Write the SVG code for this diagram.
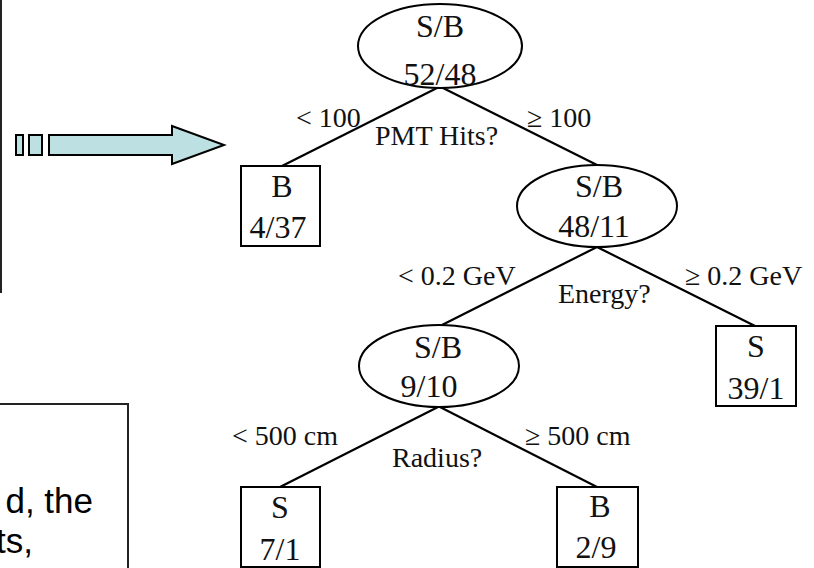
<svg xmlns="http://www.w3.org/2000/svg" width="814" height="568" viewBox="0 0 814 568">
  <style>
    .edge { stroke: #000; stroke-width: 2.2; fill: none; }
    .node { stroke: #000; stroke-width: 2; fill: #fff; }
    .nt { font-family: "Liberation Serif", "Times New Roman", serif; font-size: 32px; fill: #111; text-anchor: middle; }
    .lbl { font-family: "Liberation Serif", "Times New Roman", serif; font-size: 28px; fill: #111; }
    .frame { stroke: #222; stroke-width: 2; fill: none; }
    .body { font-family: "Liberation Sans", Arial, sans-serif; font-size: 35px; fill: #000; text-anchor: end; }
    .arrow { fill: #bde0e3; stroke: #000; stroke-width: 2; stroke-linejoin: miter; }
  </style>
  <rect width="814" height="568" fill="#fff"/>

  <!-- left-hand panel edge and lower text panel -->
  <line class="frame" x1="1" y1="0" x2="1" y2="293"/>
  <rect class="frame" x="-4" y="404" width="132" height="170"/>
  <text class="body" x="93" y="513">d, the</text>
  <text class="body" x="33" y="553">ts,</text>

  <!-- block arrow -->
  <g id="arrow">
    <rect class="arrow" x="16" y="135" width="7" height="20"/>
    <rect class="arrow" x="29" y="135" width="13" height="20"/>
    <polygon class="arrow" points="49,135 172,135 172,126 224,145 172,164 172,155 49,155"/>
  </g>

  <!-- connectors -->
  <g id="connectors">
    <line class="edge" x1="439" y1="87" x2="282" y2="166"/>
    <line class="edge" x1="441" y1="87" x2="597" y2="165"/>
    <line class="edge" x1="597" y1="247" x2="442" y2="325"/>
    <line class="edge" x1="597" y1="247" x2="755" y2="326"/>
    <line class="edge" x1="438" y1="407" x2="280" y2="487"/>
    <line class="edge" x1="440" y1="407" x2="597" y2="487"/>
  </g>

  <!-- split conditions -->
  <g id="labels">
    <text class="lbl" x="296" y="127">&lt; 100</text>
    <text class="lbl" x="527" y="127">≥ 100</text>
    <text class="lbl" x="375" y="145">PMT Hits?</text>
    <text class="lbl" x="398" y="285">&lt; 0.2 GeV</text>
    <text class="lbl" x="558" y="303">Energy?</text>
    <text class="lbl" x="685" y="285">≥ 0.2 GeV</text>
    <text class="lbl" x="232" y="445">&lt; 500 cm</text>
    <text class="lbl" x="392" y="467">Radius?</text>
    <text class="lbl" x="525" y="445">≥ 500 cm</text>
  </g>

  <!-- decision nodes -->
  <g id="root">
    <ellipse class="node" cx="440" cy="46" rx="82" ry="42"/>
    <text class="nt" x="440" y="37">S/B</text>
    <text class="nt" x="440" y="85">52/48</text>
  </g>
  <g id="energy">
    <ellipse class="node" cx="597" cy="206" rx="80" ry="41"/>
    <text class="nt" x="599" y="197">S/B</text>
    <text class="nt" x="594" y="237">48/11</text>
  </g>
  <g id="radius">
    <ellipse class="node" cx="439" cy="366" rx="80" ry="41"/>
    <text class="nt" x="438" y="358">S/B</text>
    <text class="nt" x="429" y="397">9/10</text>
  </g>

  <!-- leaves -->
  <g id="leaf-b1">
    <rect class="node" x="241" y="166" width="79" height="80"/>
    <text class="nt" x="282" y="197">B</text>
    <text class="nt" x="278" y="238">4/37</text>
  </g>
  <g id="leaf-s1">
    <rect class="node" x="716" y="326" width="80" height="80"/>
    <text class="nt" x="756" y="357">S</text>
    <text class="nt" x="756" y="399">39/1</text>
  </g>
  <g id="leaf-s2">
    <rect class="node" x="241" y="487" width="79" height="80"/>
    <text class="nt" x="280" y="518">S</text>
    <text class="nt" x="280" y="560">7/1</text>
  </g>
  <g id="leaf-b2">
    <rect class="node" x="557" y="487" width="81" height="80"/>
    <text class="nt" x="600" y="517">B</text>
    <text class="nt" x="596" y="558">2/9</text>
  </g>
</svg>
